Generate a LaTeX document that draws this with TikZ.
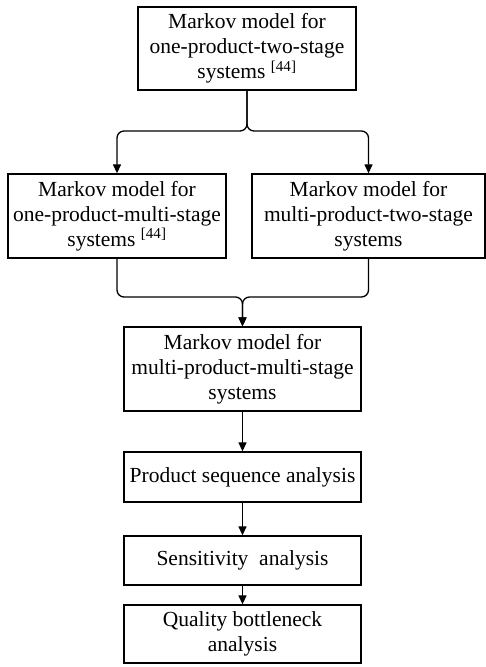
\documentclass[tikz,border=0pt]{standalone}
\usepackage{fontspec}
\setmainfont{Liberation Serif}
\usetikzlibrary{arrows.meta}
\begin{document}
\begin{tikzpicture}[x=1pt,y=1pt,
  box/.style={draw, line width=1.3pt, align=center, inner sep=0pt,
    font=\fontsize{21.5}{25}\selectfont},
  conn/.style={line width=1.3pt, -{Triangle[length=9pt,width=8pt]}},
  brace/.style={conn, rounded corners=7pt}]
\useasboundingbox (0,0) rectangle (486,667);
\node[box, minimum width=218pt, minimum height=83pt] (top) at (247,618.5)
  {Markov model for\\one-product-two-stage\\systems \textsuperscript{[44]}};
\node[box, minimum width=218pt, minimum height=84pt] (left) at (117,451)
  {Markov model for\\one-product-multi-stage\\systems \textsuperscript{[44]}};
\node[box, minimum width=233pt, minimum height=84pt] (right) at (368.5,451)
  {Markov model for\\multi-product-two-stage\\systems};
\node[box, minimum width=237pt, minimum height=84pt] (mm) at (242.5,298)
  {Markov model for\\multi-product-multi-stage\\systems};
\node[box, minimum width=237pt, minimum height=50pt] (ps) at (242.5,190)
  {Product sequence analysis};
\node[box, minimum width=237pt, minimum height=49pt] (sa) at (242.5,106.5)
  {Sensitivity~ analysis};
\node[box, minimum width=237pt, minimum height=58pt] (qb) at (242.5,33)
  {Quality bottleneck\\analysis};
\coordinate (split) at (247,536);
\coordinate (merge) at (242.5,370);
\draw[brace] (top.south) -- (split) -| (left.north);
\draw[brace] (top.south) -- (split) -| (right.north);
\draw[brace] (left.south) |- (merge) -- (mm.north);
\draw[brace] (right.south) |- (merge) -- (mm.north);
\draw[conn] (mm) -- (ps);
\draw[conn] (ps) -- (sa);
\draw[conn] (sa) -- (qb);
\end{tikzpicture}
\end{document}
